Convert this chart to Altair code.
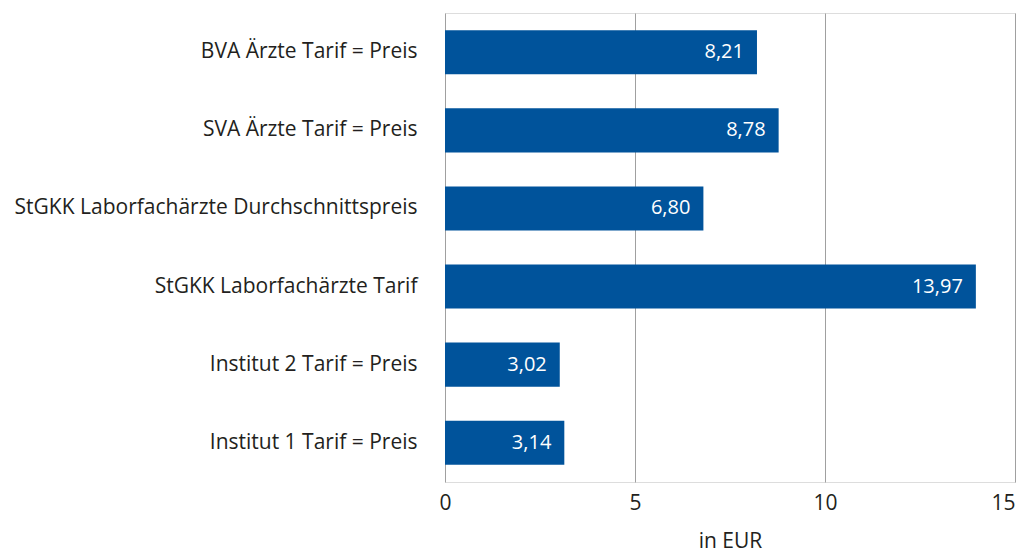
import altair as alt
import pandas as pd

categories = [
    "BVA Ärzte Tarif = Preis",
    "SVA Ärzte Tarif = Preis",
    "StGKK Laborfachärzte Durchschnittspreis",
    "StGKK Laborfachärzte Tarif",
    "Institut 2 Tarif = Preis",
    "Institut 1 Tarif = Preis",
]
values = [8.21, 8.78, 6.80, 13.97, 3.02, 3.14]
labels = ["8,21", "8,78", "6,80", "13,97", "3,02", "3,14"]

df = pd.DataFrame({"cat": categories, "val": values, "lab": labels})

FONT = "Open Sans"

y_enc = alt.Y(
    "cat:N",
    sort=categories,
    title=None,
    scale=alt.Scale(paddingInner=0.435, paddingOuter=0.22),
    axis=alt.Axis(
        labelFont=FONT, labelFontSize=21, labelColor="#231f20",
        labelPadding=28, ticks=False, domain=False, labelLimit=500,
    ),
)
x_enc = alt.X(
    "val:Q",
    title="in EUR",
    scale=alt.Scale(domain=[0, 15], nice=False),
    axis=alt.Axis(
        values=[0, 5, 10, 15], labelFont=FONT, labelFontSize=21,
        labelColor="#231f20", ticks=False, domain=False, labelPadding=10,
        labelFlush=False,
        labelAlign=alt.ExprRef(expr="datum.value == 15 ? 'right' : 'center'"),
        titleFont=FONT, titleFontSize=21, titleColor="#231f20",
        titleFontWeight="normal", titlePadding=17,
        grid=True, gridColor="#a0a0a0", gridWidth=1,
    ),
)

bars = alt.Chart(df).mark_bar(color="#00539b").encode(y=y_enc, x=x_enc)
text = alt.Chart(df).mark_text(
    align="right", dx=-13, color="white", font=FONT, fontSize=20
).encode(y=alt.Y("cat:N", sort=categories), x="val:Q", text="lab:N")

chart = (
    (bars + text)
    .properties(
        width=570, height=469,
        autosize=alt.AutoSizeParams(type="none"),
        padding={"left": 437, "top": 5, "right": 3, "bottom": 73},
    )
    .configure_view(stroke="#a0a0a0", strokeWidth=1)
    .configure(background="white")
)

chart.save("out.html", embed_options={"renderer": "svg", "actions": False})
